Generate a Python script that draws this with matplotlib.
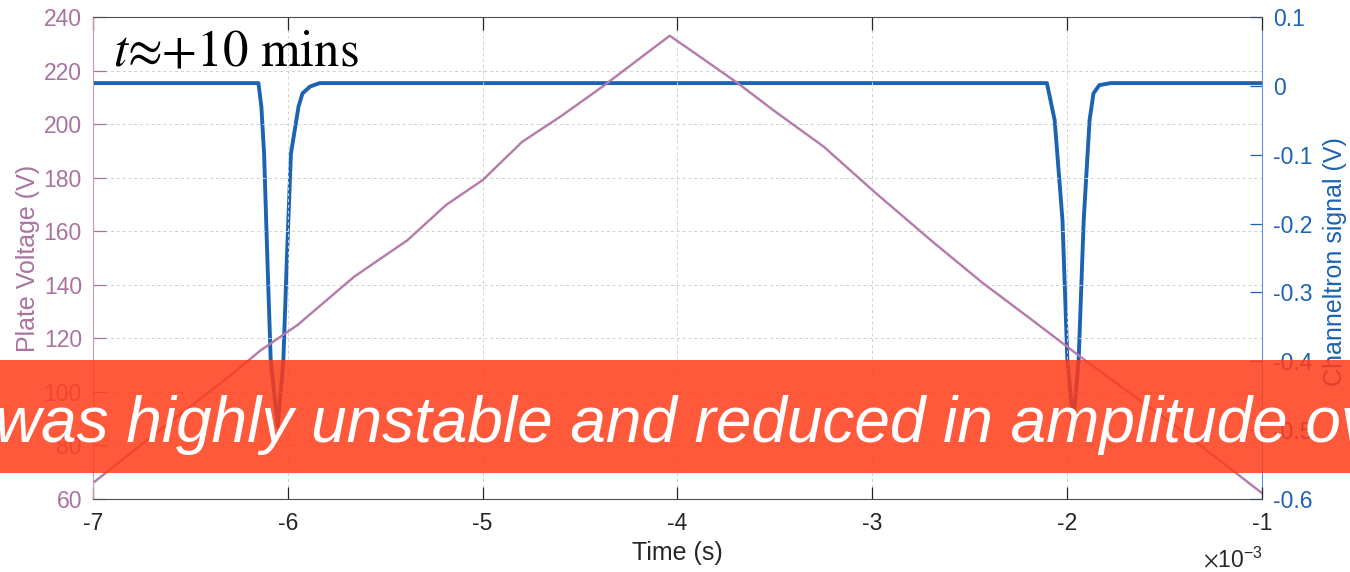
import numpy as np
import matplotlib
matplotlib.use('Agg')
import matplotlib.pyplot as plt
from matplotlib.patches import Rectangle

plt.rcParams['font.family'] = 'Liberation Sans'
plt.rcParams['axes.unicode_minus'] = False
plt.rcParams['mathtext.fontset'] = 'stix'

# plate voltage ramp (time in ms, volts)
plate_t = [-7.0, -6.74, -6.28, -6.14, -5.95, -5.66, -5.385, -5.188, -5.0, -4.797,
           -4.601, -4.385, -4.04, -3.909, -3.689, -3.51, -3.25, -2.991, -2.691,
           -2.432, -2.192, -1.91, -1.45, -1.0]
plate_v = [66, 81, 107, 115.5, 125, 143.0, 156.7, 169.8, 179.1, 193.4,
           202.8, 214.0, 233, 226.4, 215.2, 205.3, 191.6, 174.8, 156.1,
           140.6, 127.5, 111.9, 87.5, 62.2]

# channeltron signal (time in ms, volts)
chan_t = [-7.0, -6.151, -6.136, -6.122, -6.106, -6.088, -6.052, -6.023, -6.004,
          -5.984, -5.945, -5.925, -5.886, -5.837,
          -2.104, -2.064, -2.024, -1.999, -1.969, -1.941, -1.915, -1.885,
          -1.865, -1.835, -1.777, -1.0]
chan_v = [0.004, 0.004, -0.030, -0.098, -0.243, -0.398, -0.495, -0.398, -0.243,
          -0.098, -0.030, -0.011, -0.001, 0.004,
          0.004, -0.050, -0.195, -0.398, -0.490, -0.398, -0.195, -0.050,
          -0.011, 0.001, 0.004, 0.004]

x_ticks = [-7, -6, -5, -4, -3, -2, -1]
left_ticks = list(range(60, 241, 20))
right_ticks = [0.1, 0, -0.1, -0.2, -0.3, -0.4, -0.5, -0.6]

purple = '#b47aa9'
purple_txt = '#a8739f'
blue = '#1c63b3'
dark = '#262626'

fig = plt.figure(figsize=(13.5, 5.72), dpi=100)
ax = fig.add_axes([0.0689, 0.1276, 0.8659, 0.8427])
ax2 = ax.twinx()
ax.set_zorder(ax2.get_zorder() + 1)
ax.patch.set_visible(False)
ax2.patch.set_facecolor('#e5e5e5')

ax2.plot(chan_t, chan_v, color=blue, lw=2.8, solid_joinstyle='round')
ax.plot(plate_t, plate_v, color=purple, lw=1.7)

ax.set_xlim(-7, -1)
ax.set_ylim(60, 240)
ax2.set_ylim(-0.6, 0.1)
ax.set_xticks(x_ticks)
ax.set_xticklabels([str(t) for t in x_ticks])
ax.set_yticks(left_ticks)
ax2.set_yticks(right_ticks)
ax2.set_yticklabels(['%g' % v for v in right_ticks])

ax.grid(True, ls=(0, (3, 3)), color='#d0d0d0', lw=0.7)

ax.tick_params(axis='x', direction='in', top=True, length=9, width=0.9,
               colors=dark, labelsize=16.5, pad=9)
ax.tick_params(axis='y', direction='in', length=9, width=0.9,
               colors=purple_txt, labelsize=16.5, pad=8)
ax2.tick_params(axis='y', direction='in', length=9, width=0.9,
                colors=blue, labelsize=16.5, pad=8)

for s in ['top', 'bottom']:
    ax.spines[s].set_color('#4d4d4d')
ax.spines['left'].set_color('#c29abb')
ax.spines['right'].set_visible(False)
for s in ['top', 'bottom', 'left']:
    ax2.spines[s].set_visible(False)
ax2.spines['right'].set_color('#5b93d3')

fig.text(677 / 1350, 1 - 553 / 572, 'Time (s)', fontsize=18, color=dark,
         ha='center', va='center')
fig.text(28 / 1350, 1 - 258 / 572, 'Plate Voltage (V)', fontsize=18,
         color=purple_txt, rotation=90, ha='center', va='center')
fig.text(1335 / 1350, 1 - 262 / 572, 'Channeltron signal (V)', fontsize=18,
         color=blue, rotation=90, ha='center', va='center')
fig.text(1263 / 1350, 1 - 560 / 572, r'$\times\mathregular{10^{-3}}$',
         fontsize=16.5, color=dark, ha='right', va='center')

fig.text(113 / 1350, 1 - 66 / 572, r'$t$≈+10 mins', fontsize=36.5,
         family='STIXGeneral', color='black', ha='left', va='baseline')

# caption banner across the lower part
fig.patches.append(Rectangle((0, 1 - 473 / 572), 1, 113 / 572,
                             transform=fig.transFigure, facecolor='#ff3c19',
                             alpha=0.85, edgecolor='none', zorder=10))
fig.text(-0.004, 1 - 442 / 572, 'was highly unstable and reduced in amplitude ov',
         fontsize=46, style='italic', color='white', ha='left', va='baseline',
         zorder=11)

fig.savefig('out.png', dpi=100)
